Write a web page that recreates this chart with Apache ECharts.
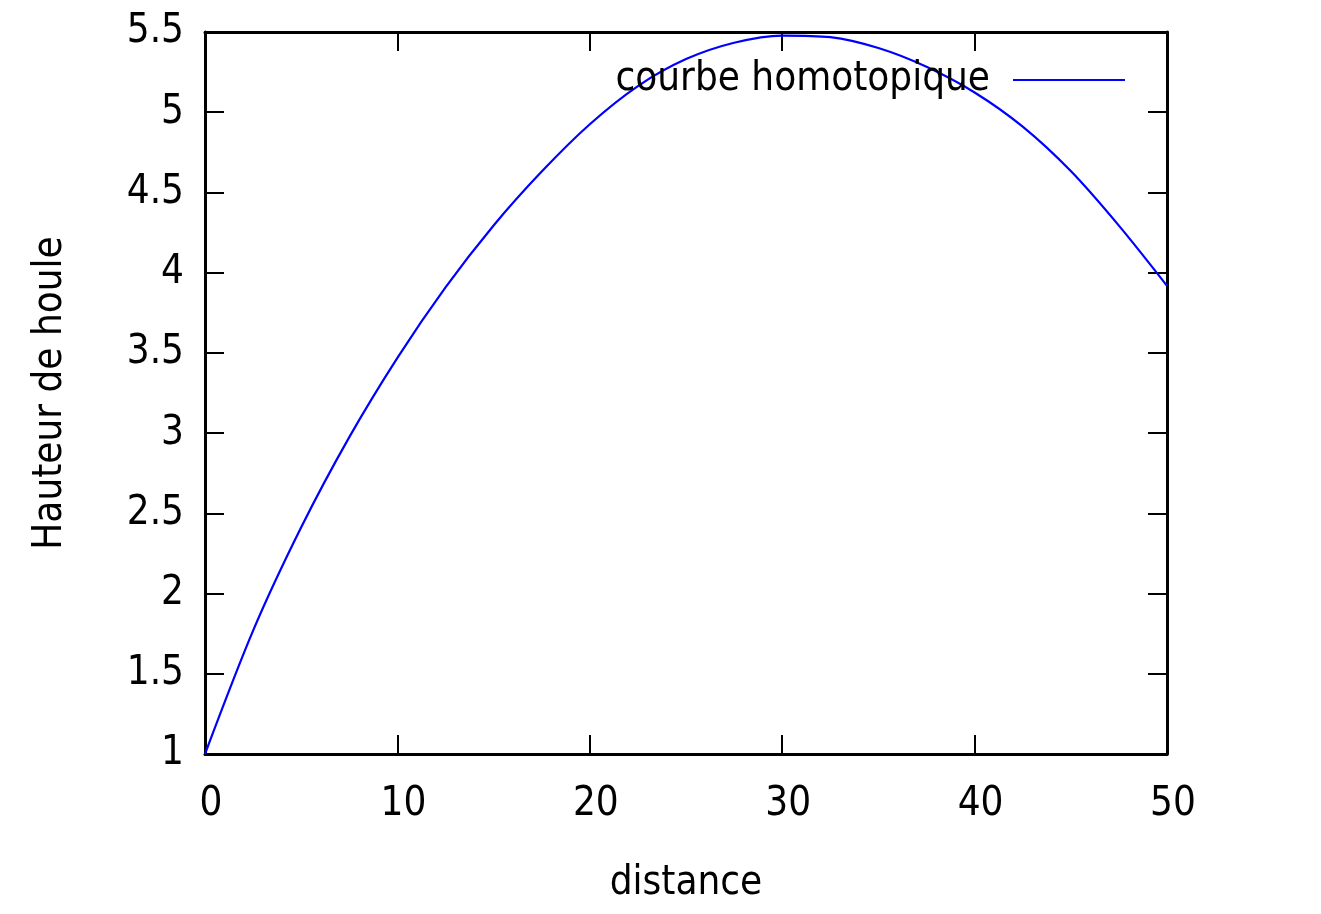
<!DOCTYPE html>
<html>
<head>
<meta charset="utf-8">
<script src="https://cdn.jsdelivr.net/npm/echarts@6/dist/echarts.min.js"></script>
<style>
html,body{margin:0;padding:0;background:#fff;}
#chart{width:1321px;height:914px;}
</style>
</head>
<body>
<div id="chart"></div>
<script>
var distance = [0, 2.5, 5, 7.5, 10, 12.5, 15, 17.5, 20, 22.5, 25, 27.5, 30, 32.5, 35, 37.5, 40, 42.5, 45, 47.5, 50];
var hauteur = [1.000, 1.769, 2.413, 2.975, 3.469, 3.908, 4.294, 4.630, 4.925, 5.163, 5.331, 5.433, 5.478, 5.468, 5.400, 5.283, 5.123, 4.910, 4.633, 4.293, 3.918];
var xTicks = [0, 10, 20, 30, 40, 50];
var yTicks = [1, 1.5, 2, 2.5, 3, 3.5, 4, 4.5, 5, 5.5];
var seriesName = 'courbe homotopique';
var xTitle = 'distance';
var yTitle = 'Hauteur de houle';

var FONT = '"DejaVu Sans Condensed", "DejaVu Sans", sans-serif';
var points = distance.map(function (d, i) { return [d, hauteur[i]]; });

var chart = echarts.init(document.getElementById('chart'), null, {renderer: 'canvas'});
var axisLineStyle = {color: '#000', width: 3};
var tickStyle = {color: '#000', width: 2};
var option = {
  backgroundColor: '#fff',
  animation: false,
  grid: {left: 205, top: 32, right: 154, bottom: 160, containLabel: false},
  legend: {
    data: [{name: seriesName, icon: 'rect'}],
    right: 191,
    top: 55,
    align: 'right',
    itemWidth: 112,
    itemHeight: 2,
    itemStyle: {color: '#0000ff'},
    textStyle: {fontFamily: FONT, fontSize: 40, color: '#000', padding: [0, 18, 0, 0]}
  },
  xAxis: [{
    type: 'value',
    min: xTicks[0], max: xTicks[xTicks.length - 1], interval: 10,
    name: xTitle, nameLocation: 'middle', nameGap: 110,
    nameTextStyle: {fontFamily: FONT, fontSize: 40, color: '#000'},
    axisLine: {show: true, onZero: false, lineStyle: axisLineStyle},
    axisTick: {show: true, inside: true, length: 19, lineStyle: tickStyle},
    axisLabel: {fontFamily: FONT, fontSize: 40, color: '#000', margin: 31, padding: [0, 0, 0, 12]},
    splitLine: {show: false}
  }, {
    type: 'value', position: 'top',
    min: xTicks[0], max: xTicks[xTicks.length - 1], interval: 10,
    axisLine: {show: true, onZero: false, lineStyle: axisLineStyle},
    axisTick: {show: true, inside: true, length: 19, lineStyle: tickStyle},
    axisLabel: {show: false},
    splitLine: {show: false}
  }],
  yAxis: [{
    type: 'value',
    min: yTicks[0], max: yTicks[yTicks.length - 1], interval: 0.5,
    name: yTitle, nameLocation: 'middle', nameGap: 134, nameRotate: 90,
    nameTextStyle: {fontFamily: FONT, fontSize: 40, color: '#000'},
    axisLine: {show: true, onZero: false, lineStyle: axisLineStyle},
    axisTick: {show: true, inside: true, length: 19, lineStyle: tickStyle},
    axisLabel: {fontFamily: FONT, fontSize: 40, color: '#000', margin: 21},
    splitLine: {show: false}
  }, {
    type: 'value', position: 'right',
    min: yTicks[0], max: yTicks[yTicks.length - 1], interval: 0.5,
    axisLine: {show: true, onZero: false, lineStyle: axisLineStyle},
    axisTick: {show: true, inside: true, length: 19, lineStyle: tickStyle},
    axisLabel: {show: false},
    splitLine: {show: false}
  }],
  series: [{
    name: seriesName,
    type: 'line',
    data: points,
    smooth: 0.3,
    symbol: 'none',
    lineStyle: {color: '#0000ff', width: 2.2},
    itemStyle: {color: '#0000ff'},
    xAxisIndex: 0, yAxisIndex: 0,
    z: 1
  }]
};
chart.setOption(option);
</script>
</body>
</html>
